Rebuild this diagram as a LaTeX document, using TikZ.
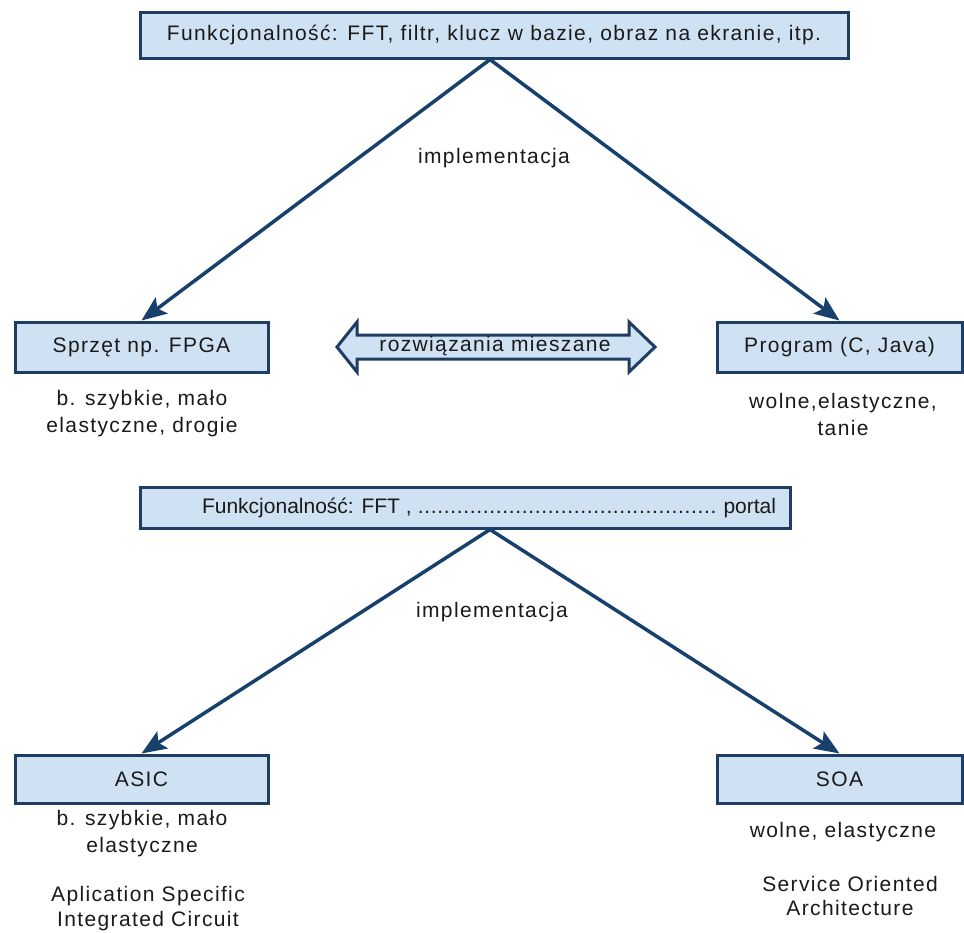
\documentclass[tikz,border=0pt]{standalone}
\usepackage{fontspec}
\setmainfont{Liberation Sans}
\newfontfamily\spaced[LetterSpace=6.5]{Liberation Sans}
\usetikzlibrary{arrows.meta,calc}
\definecolor{boxfill}{HTML}{CFE2F3}
\definecolor{boxline}{HTML}{1F3D63}
\definecolor{arrowcol}{HTML}{17406D}
\definecolor{txt}{HTML}{1A1A1A}
\newcommand{\dotrun}[1]{\hbox to #1{\leaders\hbox to 6.5pt{\hss.\hss}\hfill}}
\begin{document}
\begin{tikzpicture}[x=1pt,y=-1pt,
  box/.style={draw=boxline,fill=boxfill,line width=3pt,inner sep=0pt,
    text=txt,font=\spaced\fontsize{21}{24}\selectfont,anchor=center},
  note/.style={text=txt,font=\spaced\fontsize{21}{27}\selectfont,align=center,inner sep=0pt},
  link/.style={draw=arrowcol,line width=3.5pt,
    -{Stealth[length=25pt,width=20pt,inset=5pt]}}]
\useasboundingbox (0,0) rectangle (964,932);
\fill[white] (0,0) rectangle (964,932);

% upper part
\node[box,minimum width=708pt,minimum height=46pt] (f1) at (494,35)
  {Funkcjonalność: FFT, filtr, klucz w bazie, obraz na ekranie, itp.};
\node[box,minimum width=253pt,minimum height=50pt] (hw) at (141.5,347) {Sprzęt np. FPGA};
\node[box,minimum width=245pt,minimum height=50pt] (sw) at (839.5,347) {Program (C, Java)};
\coordinate (a1) at ([xshift=-4pt]f1.south);
\draw[link] (a1) -- (hw.north);
\draw[link] (a1) -- (sw.north);
\node[note] (imp1) at (494,158) {implementacja};

% mixed solutions
\draw[boxline,fill=boxfill,line width=3pt,line join=miter]
  (337,347) -- (357,322) -- (357,335) -- (629,335) -- (629,322) -- (655,347)
  -- (629,372) -- (629,359) -- (357,359) -- (357,372) -- cycle;
\node[note] (mix) at (495,346) {rozwiązania mieszane};

\node[note] (hwn) at (142,414) {b. szybkie, mało\\elastyczne, drogie};
\node[note] (swn) at (843,414) {wolne,elastyczne,\\tanie};

% lower part
\node[box,minimum width=650pt,minimum height=41pt,font=\fontsize{21}{24}\selectfont] (f2) at (465,507.5)
  {\hspace*{48pt}Funkcjonalność: FFT , \dotrun{300pt} portal};
\node[box,minimum width=253pt,minimum height=48pt] (asic) at (141.5,779) {ASIC};
\node[box,minimum width=245pt,minimum height=48pt] (soa) at (839.5,779) {SOA};
\coordinate (a2) at ([xshift=25pt]f2.south);
\draw[link] (a2) -- (asic.north);
\draw[link] (a2) -- (soa.north);
\node[note] (imp2) at (492,612) {implementacja};

\node[note] (asicn) at (142,833.5) {b. szybkie, mało\\elastyczne};
\node[note,font=\spaced\fontsize{21}{25}\selectfont] (asicf) at (148,908.5) {Aplication Specific\\Integrated Circuit};
\node[note] (soan) at (843,832) {wolne, elastyczne};
\node[note,font=\spaced\fontsize{21}{24}\selectfont] (soaf) at (850,896) {Service Oriented\\Architecture};
\end{tikzpicture}
\end{document}
